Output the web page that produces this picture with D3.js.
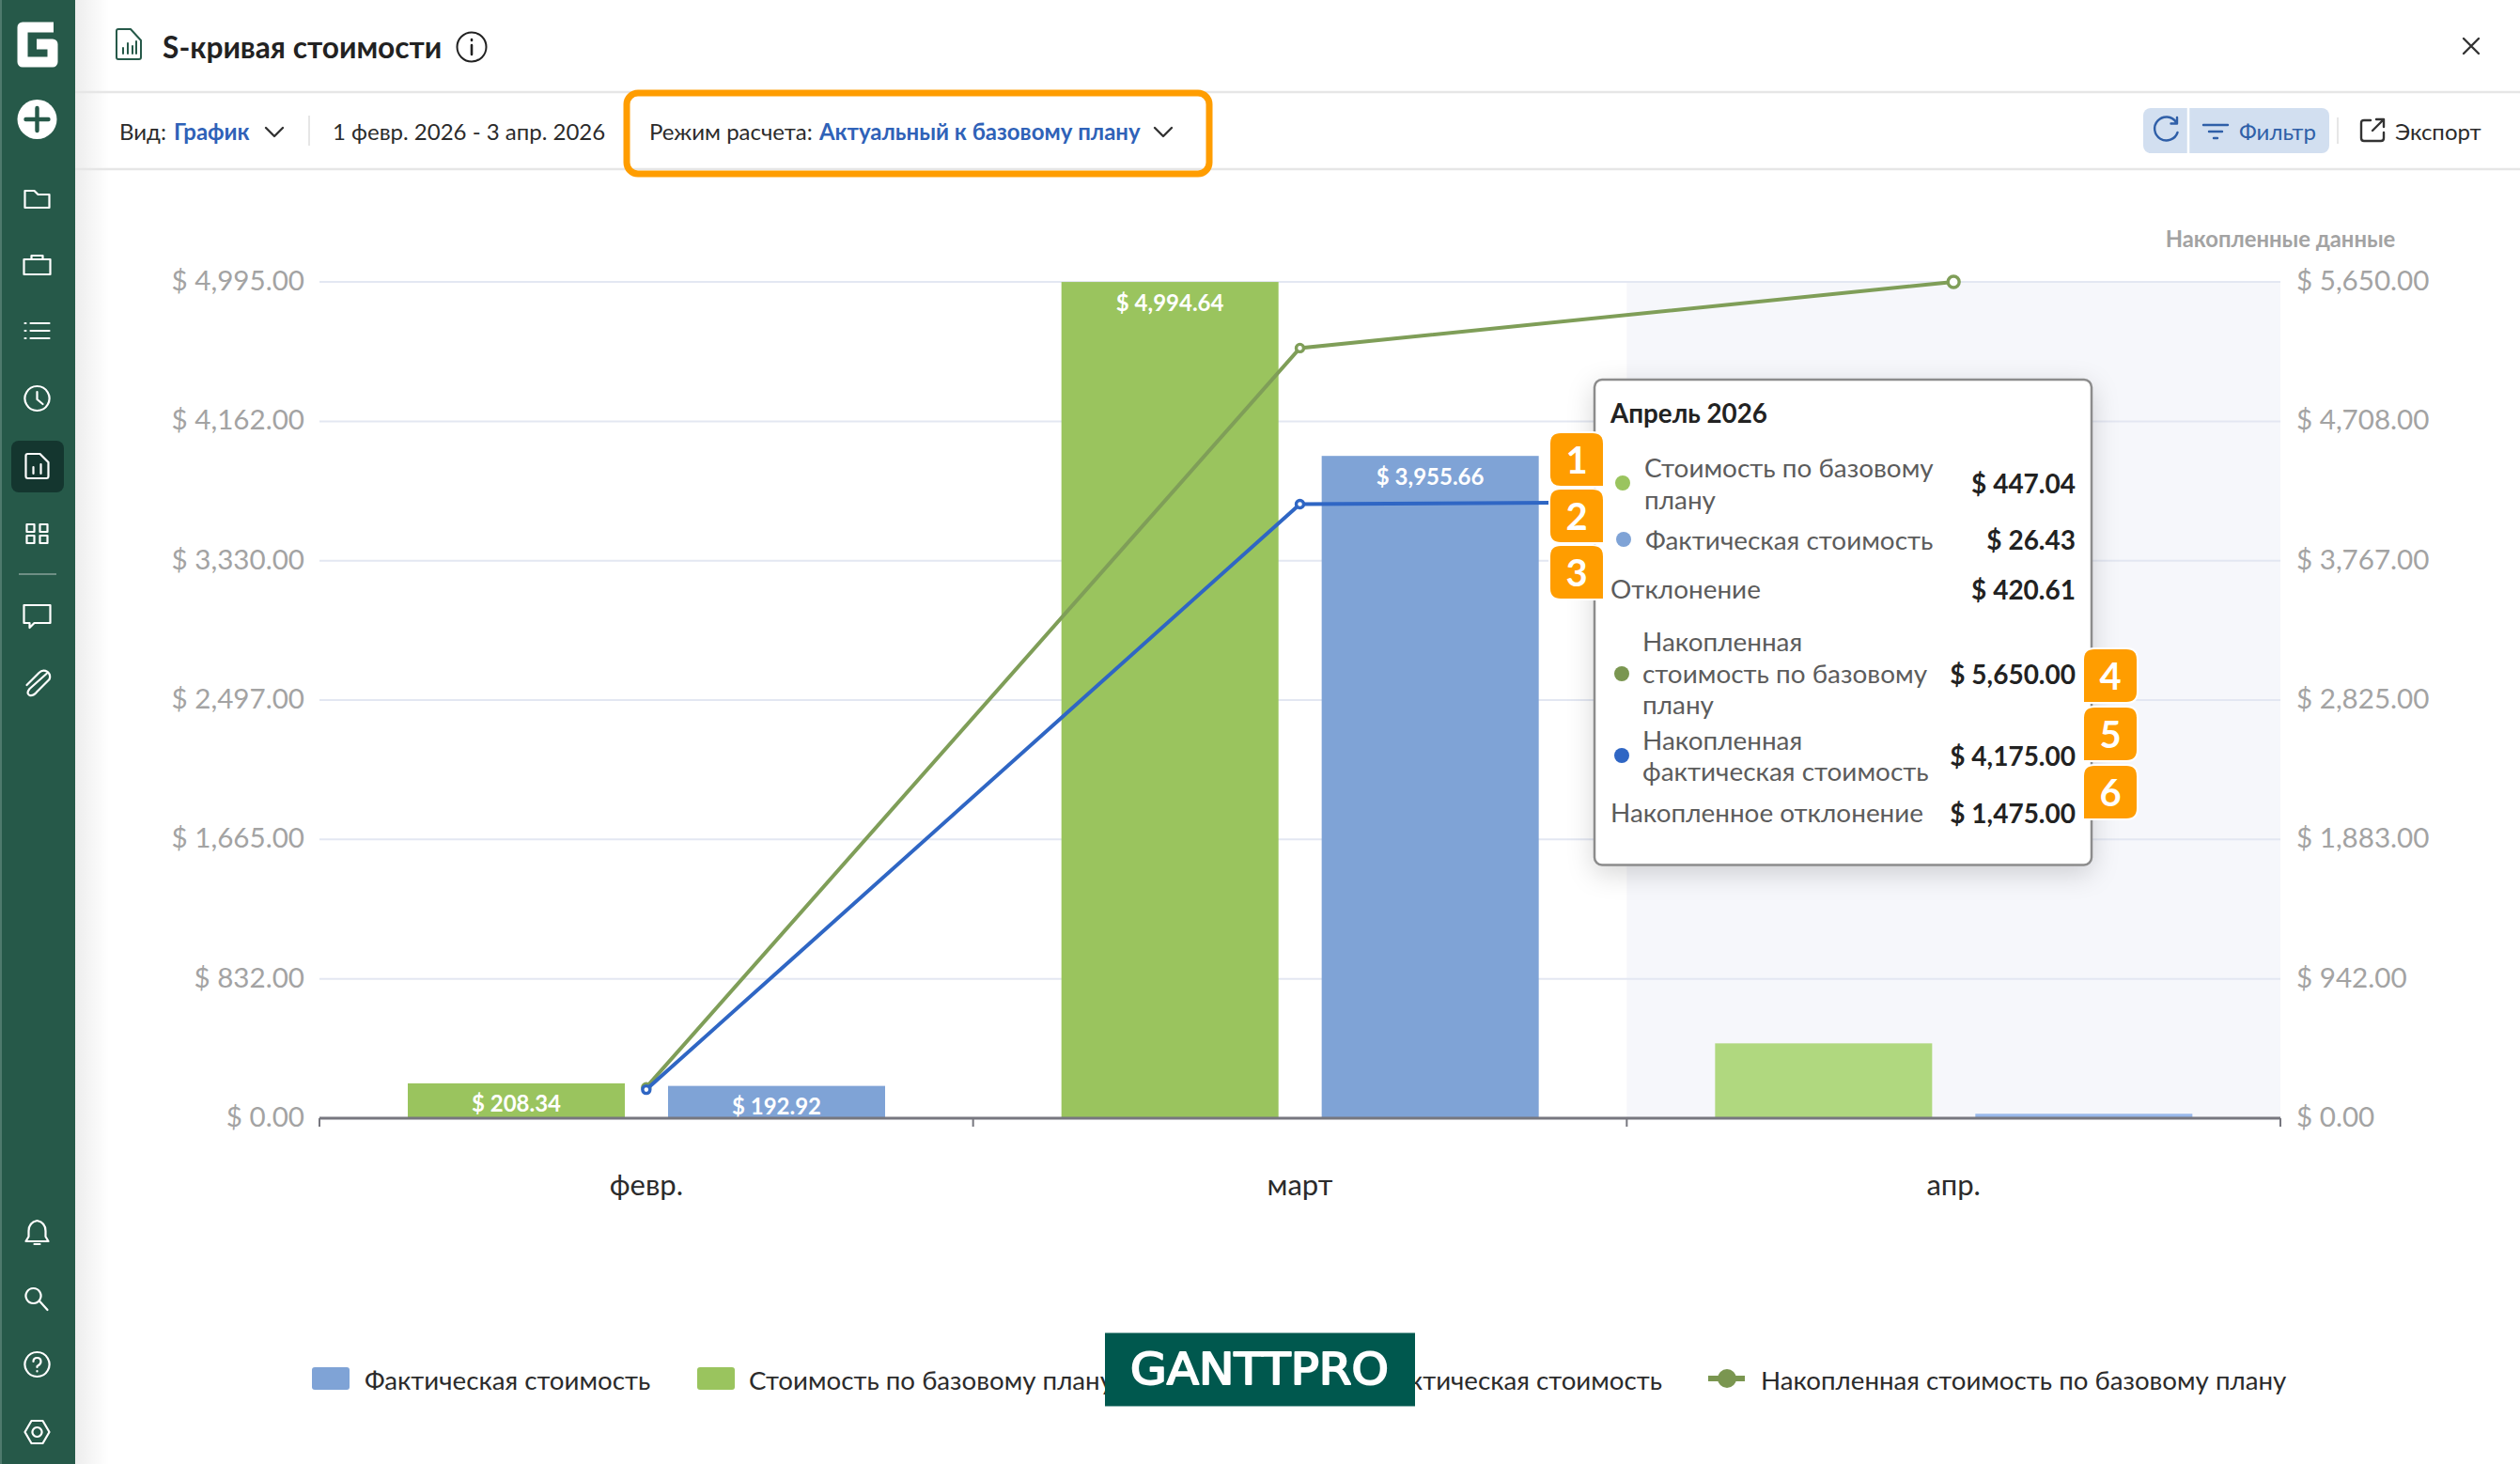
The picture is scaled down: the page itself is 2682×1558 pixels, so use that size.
<!DOCTYPE html>
<html lang="ru">
<head>
<meta charset="utf-8">
<title>S-кривая стоимости</title>
<script src="https://cdn.jsdelivr.net/npm/d3@7"></script>
<style>
  html, body { margin: 0; padding: 0; background: #fff; }
  svg { display: block; }
  text { font-family: Lato, "Open Sans", sans-serif; dominant-baseline: central; }
</style>
</head>
<body>
<div id="chart"></div>
<script>
// chart data
const months = ["февр.", "март", "апр."];
const actualCost = [192.92, 3955.66, 26.43];
const planCost = [208.34, 4994.64, 447.04];
const cumActual = [192.92, 4148.58, 4175.00];
const cumPlan = [208.34, 5202.98, 5650.00];
const leftTicks = [0, 832, 1665, 2497, 3330, 4162, 4995];
const rightTicks = [0, 942, 1883, 2825, 3767, 4708, 5650];
const legendLabels = ["Фактическая стоимость", "Стоимость по базовому плану", "Накопленная фактическая стоимость", "Накопленная стоимость по базовому плану"];

// tooltip content
const tipTitle = "Апрель 2026";
const tipLabels = [["Стоимость по базовому", "плану"], ["Фактическая стоимость"], ["Отклонение"],
  ["Накопленная", "стоимость по базовому", "плану"], ["Накопленная", "фактическая стоимость"], ["Накопленное отклонение"]];
const tipValues = ["$ 447.04", "$ 26.43", "$ 420.61", "$ 5,650.00", "$ 4,175.00", "$ 1,475.00"];

const W = 2682, H = 1558;
const GREEN = "#9AC45E", GREEN_L = "#B0D87F", BLUE = "#7FA3D6", BLUE_L = "#99B9EB";
const OLIVE = "#7F9E58", LINE_BLUE = "#2F66C4", SIDE = "#265949", TXT = "#2B2B2B", LINK = "#2F62B8";

const svg = d3.select("#chart").append("svg").attr("width", W).attr("height", H)
  .attr("viewBox", `0 0 ${W} ${H}`);

const defs = svg.append("defs");
const grad = defs.append("linearGradient").attr("id", "sideShade");
grad.append("stop").attr("offset", 0).attr("stop-color", "#000").attr("stop-opacity", 0.07);
grad.append("stop").attr("offset", 1).attr("stop-color", "#000").attr("stop-opacity", 0);

function label(g, x, y, str, size, color, weight, anchor) {
  return g.append("text").attr("x", x).attr("y", y).text(str)
    .attr("font-size", size).attr("fill", color)
    .attr("font-weight", weight || 400).attr("text-anchor", anchor || "start");
}

function icon(g, x, y, d, color, width) {
  return g.append("path").attr("transform", `translate(${x},${y})`).attr("d", d)
    .attr("fill", "none").attr("stroke", color).attr("stroke-width", width || 2.4)
    .attr("stroke-linecap", "round").attr("stroke-linejoin", "round");
}

const chevron = "M-9,-4 L0,5 L9,-4";

// ---------- plot ----------
const plotL = 340, plotR = 2427, plotT = 300, plotB = 1190;

const x = d3.scaleBand().domain(months).range([plotL, plotR]);
const xInner = d3.scaleBand().domain(["plan", "actual"]).range([94, 602]).paddingInner(0.166);
const yLeft = d3.scaleLinear().domain([0, 4995]).range([plotB, plotT]);
const yRight = d3.scaleLinear().domain([0, 5650]).range([plotB, plotT]);
const center = m => x(m) + x.bandwidth() / 2;

const plot = svg.append("g");

// highlighted month
plot.append("rect").attr("x", x(months[2])).attr("y", plotT)
  .attr("width", x.bandwidth()).attr("height", plotB - plotT).attr("fill", "#F6F7FB");

// gridlines
plot.append("g").selectAll("line").data(leftTicks.slice(1)).join("line")
  .attr("x1", plotL).attr("x2", plotR)
  .attr("y1", d => yLeft(d)).attr("y2", d => yLeft(d))
  .attr("stroke", "#E3E7F2").attr("stroke-width", 2);

// axes
const money = d => "$ " + d3.format(",.2f")(d);
const leftAxis = plot.append("g").attr("transform", `translate(${plotL - 16},0)`)
  .call(d3.axisLeft(yLeft).tickValues(leftTicks).tickFormat(money).tickSize(0).tickPadding(0));
const rightAxis = plot.append("g").attr("transform", `translate(${plotR + 17},0)`)
  .call(d3.axisRight(yRight).tickValues(rightTicks).tickFormat(money).tickSize(0).tickPadding(0));
[leftAxis, rightAxis].forEach(a => {
  a.select(".domain").remove();
  a.selectAll("text").attr("font-size", 29.6).attr("fill", "#A3A3A3").attr("dy", -3)
    .style("font-family", "Lato").style("dominant-baseline", "central");
});

label(plot, 2427, 254, "Накопленные данные", 23.8, "#A3A3A3", 700, "middle");

// bars
function drawBars(key, values, color, colorLast) {
  const g = plot.append("g");
  g.selectAll("rect").data(values).join("rect")
    .attr("x", (d, i) => x(months[i]) + xInner(key))
    .attr("width", xInner.bandwidth())
    .attr("y", d => yLeft(d))
    .attr("height", d => plotB - yLeft(d))
    .attr("fill", (d, i) => i === 2 ? colorLast : color);
  g.selectAll("text").data(values.slice(0, 2)).join("text")
    .attr("x", (d, i) => x(months[i]) + xInner(key) + xInner.bandwidth() / 2)
    .attr("y", d => yLeft(d) + 21)
    .attr("text-anchor", "middle").attr("fill", "#fff")
    .attr("font-size", 24).attr("font-weight", 700)
    .text(money);
}
drawBars("plan", planCost, GREEN, GREEN_L);
drawBars("actual", actualCost, BLUE, BLUE_L);

// baseline + ticks
const xAxis = plot.append("g").attr("transform", `translate(0,${plotB})`);
xAxis.append("line").attr("x1", plotL).attr("x2", plotR)
  .attr("stroke", "#77777F").attr("stroke-width", 3);
xAxis.selectAll(".tick-mark").data(d3.range(months.length + 1)).join("line")
  .attr("class", "tick-mark")
  .attr("x1", i => plotL + i * x.step()).attr("x2", i => plotL + i * x.step())
  .attr("y1", 0).attr("y2", 9)
  .attr("stroke", "#77777F").attr("stroke-width", 2);
plot.selectAll(".month").data(months).join("text")
  .attr("class", "month").attr("x", center).attr("y", 1260)
  .attr("text-anchor", "middle").attr("font-size", 31).attr("fill", TXT)
  .text(d => d);

// cumulative lines
function drawLine(values, color) {
  const g = plot.append("g");
  const line = d3.line().x((d, i) => center(months[i])).y(d => yRight(d));
  g.append("path").attr("d", line(values)).attr("fill", "none")
    .attr("stroke", color).attr("stroke-width", 4);
  g.selectAll("circle").data(values).join("circle")
    .attr("cx", (d, i) => center(months[i])).attr("cy", d => yRight(d))
    .attr("r", (d, i) => i === 2 ? 6 : 4)
    .attr("fill", "#fff").attr("stroke", color).attr("stroke-width", 3.4);
}
drawLine(cumPlan, OLIVE);
drawLine(cumActual, LINE_BLUE);

// ---------- legend ----------
const legend = svg.append("g");
const legendY = 1468;
[[332, BLUE], [742, GREEN]].forEach(s => {
  legend.append("rect").attr("x", s[0]).attr("y", 1455).attr("width", 40).attr("height", 24)
    .attr("rx", 3).attr("fill", s[1]);
});
label(legend, 388, legendY, legendLabels[0], 27.7, TXT);
label(legend, 797, legendY, legendLabels[1], 27.7, TXT);
label(legend, 1769, legendY, legendLabels[2], 27.7, TXT, 400, "end");
legend.append("line").attr("x1", 1818).attr("x2", 1857).attr("y1", 1467).attr("y2", 1467)
  .attr("stroke", "#7A9650").attr("stroke-width", 6);
legend.append("circle").attr("cx", 1838).attr("cy", 1467).attr("r", 10).attr("fill", "#7A9650");
label(legend, 1874, legendY, legendLabels[3], 27.7, TXT);

// watermark
const mark = svg.append("g");
mark.append("rect").attr("x", 1176).attr("y", 1418.5).attr("width", 330).attr("height", 78).attr("fill", "#00584E");
label(mark, 1203, 1456, "GANTTPRO", 47, "#fff", 400).attr("textLength", 275)
  .attr("lengthAdjust", "spacingAndGlyphs").style("font-family", "DejaVu Sans")
  .attr("stroke", "#fff").attr("stroke-width", 2).attr("stroke-linejoin", "round");

// ---------- tooltip ----------
const tip = svg.append("g");
tip.append("rect").attr("x", 1697).attr("y", 404).attr("width", 529).attr("height", 516.5).attr("rx", 8)
  .attr("fill", "#fff").attr("stroke", "#8C8C8C").attr("stroke-width", 2.5)
  .style("filter", "drop-shadow(0 8px 14px rgba(0,0,0,.16))");
label(tip, 1714, 439, tipTitle, 27.8, "#222", 700);

const tipLabelX = [1750, 1751, 1714, 1748, 1748, 1714];
const tipLineY = [[497, 531], [574], [626], [682, 716, 749], [787, 820], [864]];
const tipValueY = [514, 574, 627, 717, 804, 865];
const tipDots = [[1727, GREEN], [1728, BLUE], null, [1726, "#7A9650"], [1726, LINE_BLUE], null];
tipLabels.forEach((lines, i) => {
  lines.forEach((str, j) => label(tip, tipLabelX[i], tipLineY[i][j], str, 27.9, "#5C5C5C"));
  label(tip, 2209, tipValueY[i], tipValues[i], 28, "#222", 700, "end");
  if (tipDots[i]) {
    tip.append("circle").attr("cx", tipDots[i][0]).attr("cy", tipValueY[i]).attr("r", 8).attr("fill", tipDots[i][1]);
  }
});

// numbered badges
const badgeLeftY = [461, 521, 581], badgeRightY = [691, 753, 815];
function badge(bx, by, n, side) {
  const s = 56, r = 11;
  const d = side === "left"
    ? `M${bx + r},${by} H${bx + s - r} Q${bx + s},${by} ${bx + s},${by + r} V${by + s} H${bx + r} Q${bx},${by + s} ${bx},${by + s - r} V${by + r} Q${bx},${by} ${bx + r},${by} Z`
    : `M${bx + r},${by} H${bx + s - r} Q${bx + s},${by} ${bx + s},${by + r} V${by + s - r} Q${bx + s},${by + s} ${bx + s - r},${by + s} H${bx} V${by + r} Q${bx},${by} ${bx + r},${by} Z`;
  tip.append("path").attr("d", d).attr("fill", "#FF9D00").attr("stroke", "#fff").attr("stroke-width", 4)
    .attr("paint-order", "stroke");
  label(tip, bx + s / 2, by + s / 2, n, 40, "#fff", 700, "middle");
}
badgeLeftY.forEach((by, i) => badge(1650, by, i + 1, "left"));
badgeRightY.forEach((by, i) => badge(2218, by, i + 4, "right"));

// ---------- header ----------
const head = svg.append("g");
head.append("rect").attr("x", 80).attr("y", 0).attr("width", 36).attr("height", H).attr("fill", "url(#sideShade)");
[98, 180].forEach(y => head.append("line").attr("x1", 80).attr("x2", W).attr("y1", y).attr("y2", y)
  .attr("stroke", "#E6E6E6").attr("stroke-width", 2.5));

icon(head, 124, 31, "M2,0 H15 L26,12 V30 Q26,32 24,32 H2 Q0,32 0,30 V2 Q0,0 2,0 Z M7,26 V20 M12,26 V15 M17,26 V18 M21,26 V13", SIDE, 2);
label(head, 173, 50, "S-кривая стоимости", 31.7, "#222", 700);
head.append("circle").attr("cx", 502).attr("cy", 50).attr("r", 15.5).attr("fill", "none").attr("stroke", "#222").attr("stroke-width", 2);
icon(head, 502, 50, "M0,-2 V8 M0,-8 V-7", "#222", 2.6);
icon(head, 2630, 49, "M-8,-8 L8,8 M8,-8 L-8,8", "#333", 2.4);

label(head, 127, 139, "Вид:", 24, TXT);
label(head, 185, 139, "График", 24, LINK, 700);
icon(head, 292, 140, chevron, "#333");
head.append("line").attr("x1", 329).attr("x2", 329).attr("y1", 123).attr("y2", 155).attr("stroke", "#E6E6E6").attr("stroke-width", 2);
label(head, 354, 139, "1 февр. 2026 - 3 апр. 2026", 24, TXT);
label(head, 691, 139, "Режим расчета:", 24, TXT);
label(head, 872, 139, "Актуальный к базовому плану", 24, LINK, 700);
icon(head, 1238, 140, chevron, "#333");

// callout around the mode selector
head.append("rect").attr("x", 667).attr("y", 99).attr("width", 620).attr("height", 86).attr("rx", 12)
  .attr("fill", "none").attr("stroke", "#FF9D00").attr("stroke-width", 7);

// filter buttons
head.append("rect").attr("x", 2281).attr("y", 115).attr("width", 198).attr("height", 48).attr("rx", 8).attr("fill", "#D2DFF0");
head.append("line").attr("x1", 2329).attr("x2", 2329).attr("y1", 115).attr("y2", 163).attr("stroke", "#fff").attr("stroke-width", 2.5);
icon(head, 2305, 138, "M11,-8 A12.5,12.5 0 1 0 12.5,3 M12,-13 V-6.5 H5.5", "#2F5FA8");
icon(head, 2358, 133, "M-13,0 H13 M-7,7 H7 M-2,14 H2", "#2F5FA8");
label(head, 2383, 139, "Фильтр", 24, "#2F5FA8");
head.append("line").attr("x1", 2488).attr("x2", 2488).attr("y1", 125).attr("y2", 153).attr("stroke", "#E6E6E6").attr("stroke-width", 2);
icon(head, 2513, 127, "M10,1 H3 Q0,1 0,4 V20 Q0,23 3,23 H21 Q24,23 24,20 V14 M12,12 L24,0 M16,0 H24 V8", "#333");
label(head, 2549, 139, "Экспорт", 24, TXT);

// ---------- sidebar ----------
const side = svg.append("g");
side.append("rect").attr("width", 80).attr("height", H).attr("fill", SIDE);
side.append("rect").attr("width", 2).attr("height", H).attr("fill", "#4F7A6D");
side.append("path").attr("d", "M57,29 H24 V66 H56 V47 H39").attr("fill", "none").attr("stroke", "#fff")
  .attr("stroke-width", 11).attr("stroke-linejoin", "round");
side.append("circle").attr("cx", 39.5).attr("cy", 127).attr("r", 21).attr("fill", "#fff");
icon(side, 39.5, 127, "M-12,0 H12 M0,-12 V12", SIDE, 4.4);
side.append("rect").attr("x", 12).attr("y", 469).attr("width", 56).attr("height", 55).attr("rx", 8).attr("fill", "#14362F");

const sideIcons = [
  [212, "M-13,-9 H-3 L1,-5 H13 V9 H-13 Z"],
  [282, "M-14,-6 H14 V10 H-14 Z M-6,-6 V-10 H6 V-6"],
  [352, "M-7,-8 H13 M-7,0 H13 M-7,8 H13 M-13,-8 H-12 M-13,0 H-12 M-13,8 H-12"],
  [424, "M0,-13 A13,13 0 1 0 0.01,-13 Z M0,-7 V1 L6,6"],
  [496, "M-12,-11 Q-12,-13 -10,-13 H3 L12,-4 V11 Q12,13 10,13 H-10 Q-12,13 -12,11 Z M-4,8 V1 M4,8 V-2"],
  [568, "M-11,-10 H-3 V-2 H-11 Z M3,-10 H11 V-2 H3 Z M-11,2 H-3 V10 H-11 Z M3,2 H11 V10 H3 Z"],
  [655, "M-14,-11 H14 V8 H-3 L-8,13 V8 H-14 Z"],
  [727, "M10,-10 L-8,6 Q-12,11 -8,13 Q-4,14 0,9 L13,-4 Q15,-9 11,-12 Q6,-15 2,-11 L-11,2"],
  [1312, "M0,-13 Q9,-11 9,-2 V4 L12,9 H-12 L-9,4 V-2 Q-9,-11 0,-13 Z M-3,12 H3"],
  [1382, "M-4,-11 A8,8 0 1 0 -3.99,-11 Z M2,2 L11,12"],
  [1452, "M0,-13 A13,13 0 1 0 0.01,-13 Z M-4,-3 Q-4,-7 0,-7 Q4,-7 4,-3 Q4,0 0,2 V3 M0,7 V7.5"],
  [1524, "M-6,-12 H6 L13,0 L6,12 H-6 L-13,0 Z M0,-5 A5,5 0 1 0 0.01,-5 Z"]
];
sideIcons.forEach(d => icon(side, 39.5, d[0], d[1], "#fff", 2.2));
side.append("line").attr("x1", 20).attr("x2", 60).attr("y1", 611).attr("y2", 611).attr("stroke", "#6E8F85").attr("stroke-width", 2);
</script>
</body>
</html>
